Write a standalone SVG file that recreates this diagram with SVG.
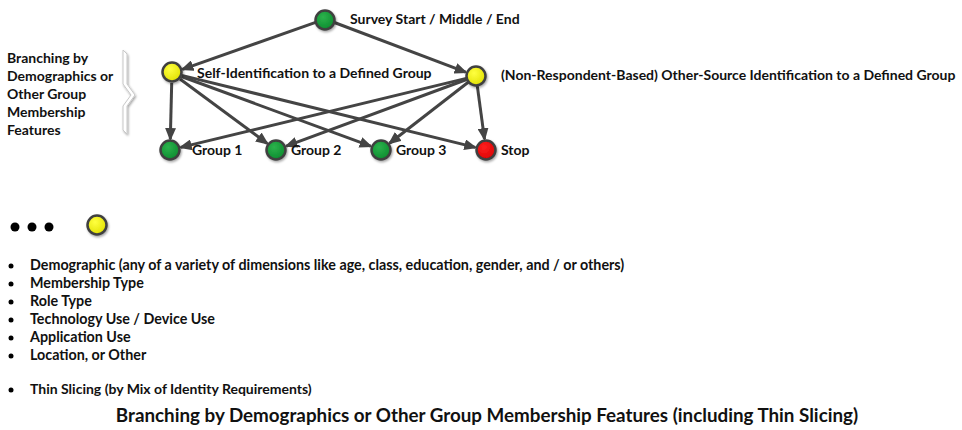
<svg xmlns="http://www.w3.org/2000/svg" width="962" height="430" viewBox="0 0 962 430">
<style>
text{font-family:Lato,"Liberation Sans",sans-serif;font-weight:700;fill:#111}
.lbl{font-size:14px}
.side{font-size:14px}
.li{font-size:14.3px}
.ttl{font-size:18.8px}
.node{stroke:#3f3f3f;stroke-width:2.5}
.edge{stroke:#444;stroke-width:3;fill:none;marker-end:url(#ah)}
</style>
<defs>
<radialGradient id="gG" cx="0.4" cy="0.35" r="0.7"><stop offset="0" stop-color="#2cb24c"/><stop offset="1" stop-color="#0a8a2e"/></radialGradient>
<radialGradient id="gY" cx="0.4" cy="0.35" r="0.7"><stop offset="0" stop-color="#ffff40"/><stop offset="1" stop-color="#e0e000"/></radialGradient>
<radialGradient id="gR" cx="0.4" cy="0.35" r="0.7"><stop offset="0" stop-color="#ff2020"/><stop offset="1" stop-color="#d80000"/></radialGradient>
<marker id="ah" markerUnits="userSpaceOnUse" markerWidth="13" markerHeight="11" refX="11" refY="5.5" orient="auto"><path d="M0,0 L13,5.5 L0,11 z" fill="#444"/></marker>
<filter id="sh" x="-50%" y="-50%" width="200%" height="200%"><feDropShadow dx="1" dy="1.5" stdDeviation="1.2" flood-color="#000" flood-opacity="0.35"/></filter>
</defs>

<g id="connectors">
<line class="edge" x1="315.6" y1="22.3" x2="182.4" y2="69.3"/>
<line class="edge" x1="334.4" y1="22.5" x2="465.7" y2="72.2"/>
<line class="edge" x1="171.7" y1="83" x2="170.3" y2="139"/>
<line class="edge" x1="180" y1="79" x2="267.2" y2="143.5"/>
<line class="edge" x1="181.4" y1="76.5" x2="370.7" y2="146.2"/>
<line class="edge" x1="181.7" y1="75.4" x2="475.3" y2="147.4"/>
<line class="edge" x1="466.3" y1="78.4" x2="180.7" y2="147.4"/>
<line class="edge" x1="466.6" y1="79.5" x2="286.3" y2="146.1"/>
<line class="edge" x1="468.2" y1="82.2" x2="389.6" y2="143.2"/>
<line class="edge" x1="477.3" y1="85.9" x2="484.5" y2="139.1"/>
</g>

<g id="survey"><circle class="node" cx="325" cy="20" r="9.5" fill="url(#gG)" filter="url(#sh)"/><text class="lbl" x="350" y="24">Survey Start / Middle / End</text></g>
<g id="self"><circle class="node" cx="172" cy="72" r="9.5" fill="url(#gY)" filter="url(#sh)"/><text class="lbl" x="197" y="78">Self-Identification to a Defined Group</text></g>
<g id="other"><circle class="node" cx="476" cy="76" r="9.5" fill="url(#gY)" filter="url(#sh)"/><text class="lbl" x="501" y="80">(Non-Respondent-Based) Other-Source Identification to a Defined Group</text></g>
<g id="group1"><circle class="node" cx="170" cy="150" r="9.5" fill="url(#gG)" filter="url(#sh)"/><text class="lbl" x="192" y="155">Group 1</text></g>
<g id="group2"><circle class="node" cx="276" cy="150" r="9.5" fill="url(#gG)" filter="url(#sh)"/><text class="lbl" x="291" y="155">Group 2</text></g>
<g id="group3"><circle class="node" cx="381" cy="150" r="9.5" fill="url(#gG)" filter="url(#sh)"/><text class="lbl" x="396" y="155">Group 3</text></g>
<g id="stop"><circle class="node" cx="486" cy="150" r="9.5" fill="url(#gR)" filter="url(#sh)"/><text class="lbl" x="501" y="155">Stop</text></g>

<g id="sidelabel">
<text class="side" x="7" y="63">Branching by</text>
<text class="side" x="7" y="81">Demographics or</text>
<text class="side" x="7" y="99">Other Group</text>
<text class="side" x="7" y="117">Membership</text>
<text class="side" x="7" y="135">Features</text>
<path d="M123,50 L127,54 L127,84 L135,95 L127,106 L127,134 L123,130 L123,106 L131,95 L123,84 Z" fill="#fff" stroke="#c8c8c8" stroke-width="1" filter="url(#sh)"/>
</g>

<g id="legend">
<circle cx="15" cy="227" r="4.5" fill="#000"/>
<circle cx="32" cy="227" r="4.5" fill="#000"/>
<circle cx="49" cy="227" r="4.5" fill="#000"/>
<circle class="node" cx="97" cy="225" r="9.5" fill="url(#gY)" filter="url(#sh)"/>
</g>

<g id="list">
<circle cx="11" cy="266" r="2.5" fill="#000"/><text class="li" x="30" y="270">Demographic (any of a variety of dimensions like age, class, education, gender, and / or others)</text>
<circle cx="11" cy="284" r="2.5" fill="#000"/><text class="li" x="30" y="288">Membership Type</text>
<circle cx="11" cy="302" r="2.5" fill="#000"/><text class="li" x="30" y="306">Role Type</text>
<circle cx="11" cy="320" r="2.5" fill="#000"/><text class="li" x="30" y="324">Technology Use / Device Use</text>
<circle cx="11" cy="338" r="2.5" fill="#000"/><text class="li" x="30" y="342">Application Use</text>
<circle cx="11" cy="356" r="2.5" fill="#000"/><text class="li" x="30" y="360">Location, or Other</text>
<circle cx="11" cy="390" r="2.5" fill="#000"/><text x="30" y="394" style="font-size:14px">Thin Slicing (by Mix of Identity Requirements)</text>
</g>

<text class="ttl" x="487" y="422" text-anchor="middle">Branching by Demographics or Other Group Membership Features (including Thin Slicing)</text>
</svg>
